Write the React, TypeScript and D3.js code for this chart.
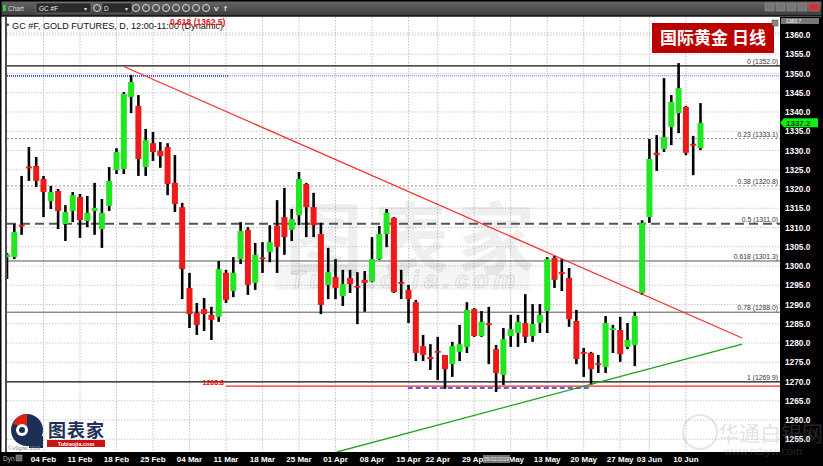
import * as d3 from 'd3';

// daily bars, 28 Jan .. 12 Jun
const opens = [
  1302.3, 1302.3, 1310.5, 1325.6, 1326.0, 1322.6, 1316.9, 1319.5, 1310.9, 1314.3,
  1317.9, 1311.7, 1314.3, 1309.6, 1315.6, 1324.9, 1325.2, 1343.9, 1341.6, 1325.7,
  1331.9, 1329.9, 1330.9, 1321.6, 1315.3, 1294.3, 1287.8, 1288.8, 1287.3, 1286.8,
  1298.2, 1293.5, 1301.8, 1309.4, 1295.6, 1302.0, 1303.6, 1310.5, 1312.7, 1309.4,
  1313.2, 1321.3, 1315.3, 1308.3, 1295.1, 1297.1, 1292.2, 1296.9, 1294.6, 1296.4,
  1296.0, 1301.8, 1308.3, 1312.5, 1295.6, 1293.8, 1290.6, 1279.2, 1276.4, 1277.7,
  1276.9, 1274.5, 1277.7, 1279.0, 1288.8, 1281.8, 1284.9, 1278.4, 1271.7, 1281.8,
  1282.6, 1285.2, 1281.8, 1285.2, 1288.3, 1302.1, 1298.2, 1296.9, 1285.7, 1277.4,
  1277.4, 1274.5, 1273.8, 1283.1, 1283.4, 1279.0, 1279.5, 1293.0, 1312.7, 1329.4,
  1330.4, 1336.1, 1339.7, 1341.3, 1331.5, 1330.6,
];
const highs = [
  1303.4, 1310.9, 1323.4, 1330.9, 1328.3, 1323.4, 1320.8, 1320.0, 1315.8, 1319.2,
  1318.7, 1318.2, 1321.6, 1317.4, 1325.7, 1330.6, 1345.2, 1349.6, 1344.4, 1335.6,
  1334.8, 1332.2, 1331.9, 1328.8, 1316.4, 1298.2, 1290.4, 1291.7, 1289.4, 1301.3,
  1299.0, 1302.3, 1311.4, 1310.1, 1306.0, 1306.2, 1310.6, 1317.1, 1320.3, 1314.8,
  1324.4, 1321.6, 1319.0, 1311.2, 1304.7, 1301.8, 1299.0, 1299.0, 1298.4, 1298.7,
  1307.5, 1310.4, 1314.8, 1312.7, 1299.0, 1295.1, 1291.2, 1282.1, 1279.7, 1281.6,
  1276.9, 1280.3, 1284.7, 1290.6, 1289.1, 1288.3, 1289.4, 1279.5, 1283.9, 1287.3,
  1287.3, 1292.7, 1290.1, 1290.1, 1302.3, 1302.6, 1301.8, 1299.5, 1288.6, 1278.7,
  1277.7, 1276.9, 1287.0, 1284.7, 1286.8, 1285.2, 1288.1, 1311.9, 1333.0, 1334.0,
  1348.8, 1344.4, 1352.7, 1341.6, 1333.8, 1342.3,
];
const lows = [
  1296.6, 1301.8, 1308.1, 1322.1, 1320.5, 1312.7, 1314.8, 1309.6, 1306.5, 1311.4,
  1307.3, 1310.1, 1308.1, 1304.7, 1314.3, 1323.9, 1323.9, 1339.7, 1323.4, 1323.4,
  1327.3, 1325.5, 1318.4, 1314.0, 1291.4, 1283.9, 1282.1, 1283.1, 1280.8, 1285.5,
  1290.4, 1291.9, 1300.5, 1292.5, 1293.8, 1298.2, 1301.0, 1298.2, 1302.9, 1306.5,
  1310.6, 1307.5, 1307.5, 1287.5, 1291.4, 1291.4, 1289.6, 1293.0, 1284.9, 1288.1,
  1295.8, 1301.6, 1304.9, 1293.0, 1291.4, 1285.2, 1275.3, 1275.3, 1273.0, 1270.4,
  1268.1, 1271.2, 1275.3, 1277.4, 1281.6, 1281.6, 1274.5, 1267.3, 1269.1, 1279.0,
  1279.0, 1280.0, 1280.3, 1282.6, 1282.6, 1294.3, 1293.5, 1284.2, 1274.5, 1271.2,
  1269.1, 1272.2, 1272.2, 1277.4, 1275.1, 1278.4, 1274.0, 1292.5, 1311.2, 1324.7,
  1329.6, 1331.4, 1334.5, 1328.8, 1323.6, 1330.1,
];
const closes = [
  1303.0, 1308.8, 1310.3, 1325.3, 1322.1, 1319.2, 1319.2, 1314.3, 1314.0, 1318.4,
  1311.9, 1313.8, 1315.1, 1313.8, 1322.1, 1329.6, 1344.7, 1347.8, 1327.8, 1332.7,
  1329.6, 1328.6, 1321.3, 1316.1, 1299.2, 1287.5, 1284.7, 1287.5, 1286.0, 1299.2,
  1291.2, 1298.2, 1309.1, 1295.1, 1302.9, 1301.7, 1306.2, 1305.0, 1307.5, 1312.2,
  1322.6, 1315.3, 1310.6, 1289.9, 1298.4, 1294.3, 1295.3, 1295.3, 1294.4, 1295.6,
  1301.8, 1308.3, 1313.8, 1293.2, 1295.3, 1291.4, 1277.4, 1276.9, 1275.8, 1277.4,
  1273.2, 1279.2, 1279.7, 1288.6, 1281.8, 1285.5, 1284.4, 1272.2, 1281.0, 1283.6,
  1285.5, 1281.6, 1284.9, 1287.3, 1301.8, 1296.4, 1297.7, 1286.2, 1275.8, 1277.1,
  1273.2, 1274.3, 1285.2, 1283.6, 1277.1, 1280.8, 1287.0, 1311.2, 1327.8, 1328.8,
  1333.5, 1342.6, 1346.2, 1329.4, 1331.2, 1337.2,
];

const tickLabels = ['04 Feb', '11 Feb', '18 Feb', '25 Feb', '04 Mar', '11 Mar', '18 Mar', '25 Mar', '01 Apr', '08 Apr',
  '15 Apr', '22 Apr', '29 Apr', '06 May', '13 May', '20 May', '27 May', '03 Jun', '10 Jun'];
const tickBars = [5, 10, 15, 20, 25, 30, 35, 40, 45, 50, 55, 59, 64, 69, 74, 79, 84, 88, 93];

const fibRatios = ['0', '0.23', '0.38', '0.5', '0.618', '0.78', '1'];
const fibPrices = [1352.0, 1333.1, 1320.8, 1311.0, 1301.3, 1288.0, 1269.9];

const priceTicks = d3.range(1255, 1361, 5);
const lastPrice = 1337.2;
const supportPrice = 1268.8;
const swingLowPrice = 1268.3;
const swingHighPrice = 1349.4;

// trend lines as [bar, price]
const redTrend: [number, number][] = [[16.0, 1351.8], [100.7, 1281.3]];
const greenTrend: [number, number][] = [[45.2, 1251.7], [100.7, 1279.7]];

const W = 823;
const H = 466;
const plotL = 7;
const plotR = 780;
const plotT = 17;
const plotB = 452;

export default function App() {
  const x = d3.scaleLinear().domain([0, 95]).range([7, 700.5]);
  const y = d3.scaleLinear().domain([1255, 1360]).range([439.25, 35]);
  const line = d3.line<[number, number]>().x((d) => x(d[0])).y((d) => y(d[1]));
  const font = 'Arial, "Liberation Sans", sans-serif';
  const cjk = '"Noto Sans CJK SC", sans-serif';

  return (
    <svg width={W} height={H} style={{ position: 'absolute', left: 0, top: 0, background: '#fff' }} fontFamily={font}>
      <defs>
        <clipPath id="plot">
          <rect x={plotL} y={plotT} width={plotR - plotL} height={plotB - plotT} />
        </clipPath>
        <linearGradient id="bar" x1="0" y1="0" x2="0" y2="1">
          <stop offset="0" stopColor="#6a6a6a" />
          <stop offset="1" stopColor="#3c3c3c" />
        </linearGradient>
      </defs>

      {/* toolbar */}
      <rect x={0} y={0} width={W} height={16} fill="url(#bar)" />
      <rect x={3} y={5} width={3} height={6} fill="#3c3" />
      <text x={8} y={10.5} fontSize={6.5} fill="#ddd">Chart</text>
      <rect x={36} y={3} width={55} height={10} fill="#2a2a2a" stroke="#888" strokeWidth={0.5} />
      <text x={39} y={10.5} fontSize={6.5} fill="#eee">GC #F</text>
      <text x={84} y={10.5} fontSize={6} fill="#ddd">▾</text>
      <circle cx={97} cy={8} r={3.5} fill="none" stroke="#ddd" strokeWidth={1} />
      <rect x={102} y={3} width={30} height={10} fill="#2a2a2a" stroke="#888" strokeWidth={0.5} />
      <text x={104} y={10.5} fontSize={6.5} fill="#eee">D</text>
      <text x={125} y={10.5} fontSize={6} fill="#ddd">▾</text>
      {[136, 146, 156, 166, 176, 186, 196, 206].map((cx) => (
        <circle key={cx} cx={cx} cy={8} r={3.5} fill="none" stroke="#ddd" strokeWidth={1} />
      ))}
      <text x={214} y={11} fontSize={8} fill="#ddd" fontWeight="bold">v</text>
      <text x={224} y={11} fontSize={8} fill="#ddd" fontWeight="bold">f</text>
      {[765, 776, 787, 798].map((bx) => (
        <rect key={bx} x={bx} y={3} width={9} height={8} fill="#777" stroke="#999" strokeWidth={0.5} />
      ))}
      <rect x={809} y={3} width={10} height={8} fill="#c33" stroke="#999" strokeWidth={0.5} />
      <line x1={0} x2={W} y1={16} y2={16} stroke="#111" strokeWidth={1.5} />

      {/* grid */}
      <g clipPath="url(#plot)">
        {priceTicks.map((v) => (
          <line key={v} x1={plotL} x2={plotR} y1={y(v)} y2={y(v)} stroke="#bdbdbd" strokeWidth={0.8} strokeDasharray="1.5,1.5" />
        ))}
        {tickBars.map((b) => (
          <line key={b} x1={x(b)} x2={x(b)} y1={plotT} y2={plotB} stroke="#b5b5b5" strokeWidth={0.8} strokeDasharray="1.5,1.5" />
        ))}
        <line x1={plotL} x2={plotR} y1={33} y2={33} stroke="#bdbdbd" strokeWidth={0.8} strokeDasharray="1.5,1.5" />
      </g>

      {/* watermark */}
      <g fill="#000">
        <text x={285} y={268} fontSize={78} fontFamily={cjk} fontWeight="bold" textLength={250} opacity={0.06}>图表家</text>
        <rect x={275} y={263} width={255} height={27} opacity={0.04} />
        <text x={290} y={288} fontSize={24} fontStyle="italic" fontWeight="bold" textLength={225} fill="none" stroke="#000" strokeWidth={1} opacity={0.1}>Tubiaojia.com</text>
      </g>

      <g clipPath="url(#plot)">
        {/* fib levels */}
        {fibPrices.map((p, i) => {
          const yy = y(p);
          let stroke = '#555';
          let sw = 1;
          let dash: string | undefined;
          if (i === 0 || i === 6) { stroke = '#111'; sw = 1.3; }
          if (i === 1 || i === 2) { stroke = '#999'; dash = '2,2'; }
          if (i === 3) { stroke = '#555'; sw = 2; dash = '9,5'; }
          return (
            <g key={p}>
              <line x1={plotL} x2={plotR} y1={yy} y2={yy} stroke={stroke} strokeWidth={sw} strokeDasharray={dash} />
              <text x={778} y={yy - 2} fontSize={6.8} fill="#333" textAnchor="end">
                {`${fibRatios[i]} (${p.toFixed(1)})`}
              </text>
            </g>
          );
        })}

        {/* swing high (blue dotted) */}
        <line x1={plotL} x2={x(30.3)} y1={y(swingHighPrice)} y2={y(swingHighPrice)} stroke="#3344ff" strokeWidth={1.8} strokeDasharray="1,1" />
        <line x1={x(30.3)} x2={plotR} y1={y(swingHighPrice)} y2={y(swingHighPrice)} stroke="#5566ff" strokeWidth={1} strokeDasharray="1,1" />

        {/* support */}
        <line x1={x(30)} x2={plotR} y1={y(supportPrice)} y2={y(supportPrice)} stroke="#ff2020" strokeWidth={1.2} />
        <text x={x(30) - 2} y={y(supportPrice) - 1.5} fontSize={7} fill="#e00" textAnchor="end" fontWeight="bold">{supportPrice.toFixed(1)}</text>
        <line x1={x(54.9)} x2={x(79.9)} y1={y(swingLowPrice)} y2={y(swingLowPrice)} stroke="#2233ee" strokeWidth={1.5} strokeDasharray="5,3" />

        {/* candles */}
        {opens.map((o, i) => {
          const c = closes[i];
          const up = c >= o;
          const top = y(Math.max(o, c));
          const bh = Math.max(1.8, y(Math.min(o, c)) - top);
          return (
            <g key={i}>
              <line x1={x(i)} x2={x(i)} y1={y(highs[i])} y2={y(lows[i])} stroke="#000" strokeWidth={2.6} />
              <rect x={x(i) - 3} y={bh < 2 ? top - 0.9 : top} width={6} height={bh} fill={up ? '#22e622' : '#ee1a1a'} />
            </g>
          );
        })}

        {/* trend lines */}
        <path d={line(redTrend) ?? ''} fill="none" stroke="#ff2a2a" strokeWidth={1.2} />
        <path d={line(greenTrend) ?? ''} fill="none" stroke="#1ca01c" strokeWidth={1.3} />
      </g>

      {/* left border of plot */}
      <line x1={6} x2={6} y1={plotT} y2={plotB} stroke="#111" strokeWidth={1.5} />

      {/* header */}
      <text x={6} y={28.5} fontSize={9.6} fill="#111" textLength={217} lengthAdjust="spacingAndGlyphs">* GC #F, GOLD FUTURES, D, 12:00-11:00 (Dynamic)</text>
      <text x={170} y={24.5} fontSize={8.5} fill="#ee1111" fontWeight="bold">0.618 (1362.5)</text>

      {/* title box */}
      <rect x={652} y={23} width={122} height={30} fill="#bb0000" />
      <text x={713} y={44} fontSize={17} fill="#fff" fontWeight="bold" textAnchor="middle" fontFamily={cjk}>国际黄金 日线</text>

      {/* logo */}
      <g>
        <circle cx={27} cy={430} r={16} fill="#1c2f57" />
        <rect x={29} y={436} width={14} height={12} fill="#1c2f57" />
        <path d="M13,424 A16,16 0 0,1 27,414 L27,428 Z" fill="#d21" />
        <circle cx={22} cy={430} r={6} fill="#fff" />
        <circle cx={22} cy={430} r={3} fill="#1c2f57" />
        <text x={48} y={437} fontSize={18} fontWeight="bold" fill="#1c2f57" fontFamily={cjk} textLength={56}>图表家</text>
        <rect x={47} y={440} width={58} height={7} fill="#cc1111" />
        <text x={76} y={446} fontSize={5.5} fill="#fff" textAnchor="middle" fontWeight="bold">Tubiaojia.com</text>
        <text x={8} y={450} fontSize={4.5} fill="#888">© eSignal, 2019</text>
      </g>

      {/* right axis */}
      <rect x={plotR} y={plotT} width={W - plotR} height={H - plotT} fill="#000" />
      {priceTicks.map((v) => (
        <text key={v} x={785} y={y(v) + 3} fontSize={8.3} fill="#fff" fontWeight="bold">{v.toFixed(1)}</text>
      ))}
      <rect x={781} y={18} width={38} height={6} fill="#777" />
      <text x={786} y={23} fontSize={5} fill="#fff">1363.7</text>
      <rect x={772} y={20} width={6} height={6} fill="#888" stroke="#444" strokeWidth={0.5} />
      <path
        d={`M780,${y(lastPrice)} L784,${y(lastPrice) - 4.5} L818,${y(lastPrice) - 4.5} L818,${y(lastPrice) + 4.5} L784,${y(lastPrice) + 4.5} Z`}
        fill="#11ee11"
      />
      <text x={786} y={y(lastPrice) + 3} fontSize={8} fill="#064406" fontWeight="bold">{lastPrice.toFixed(1)}</text>

      {/* bottom axis */}
      <rect x={0} y={plotB} width={W} height={H - plotB} fill="#000" />
      <text x={3} y={461} fontSize={6.5} fill="#bbb">Dyn</text>
      <rect x={16} y={455} width={6} height={6} fill="#666" stroke="#aaa" strokeWidth={0.5} />
      {tickLabels.map((t, i) => (
        <text key={t} x={x(tickBars[i])} y={461.5} fontSize={8} fill="#fff" fontWeight="bold" textAnchor="middle">{t}</text>
      ))}
      <rect x={483} y={455} width={27} height={8} fill="#777" />
      <text x={496.5} y={461} fontSize={5} fill="#eee" textAnchor="middle">05/02/2019</text>

      {/* site watermark, laid over the axis */}
      <g opacity={0.25} fill="#999">
        <circle cx={700} cy={432} r={17} fill="none" stroke="#999" strokeWidth={2} />
        <text x={718} y={441} fontSize={21} fontFamily={cjk}>华通白银网</text>
        <text x={724} y={455} fontSize={11}>www.htbyw.com</text>
      </g>

      {/* outer frame */}
      <rect x={0.75} y={0.75} width={W - 1.5} height={H - 1.5} fill="none" stroke="#000" strokeWidth={1.5} />
    </svg>
  );
}
